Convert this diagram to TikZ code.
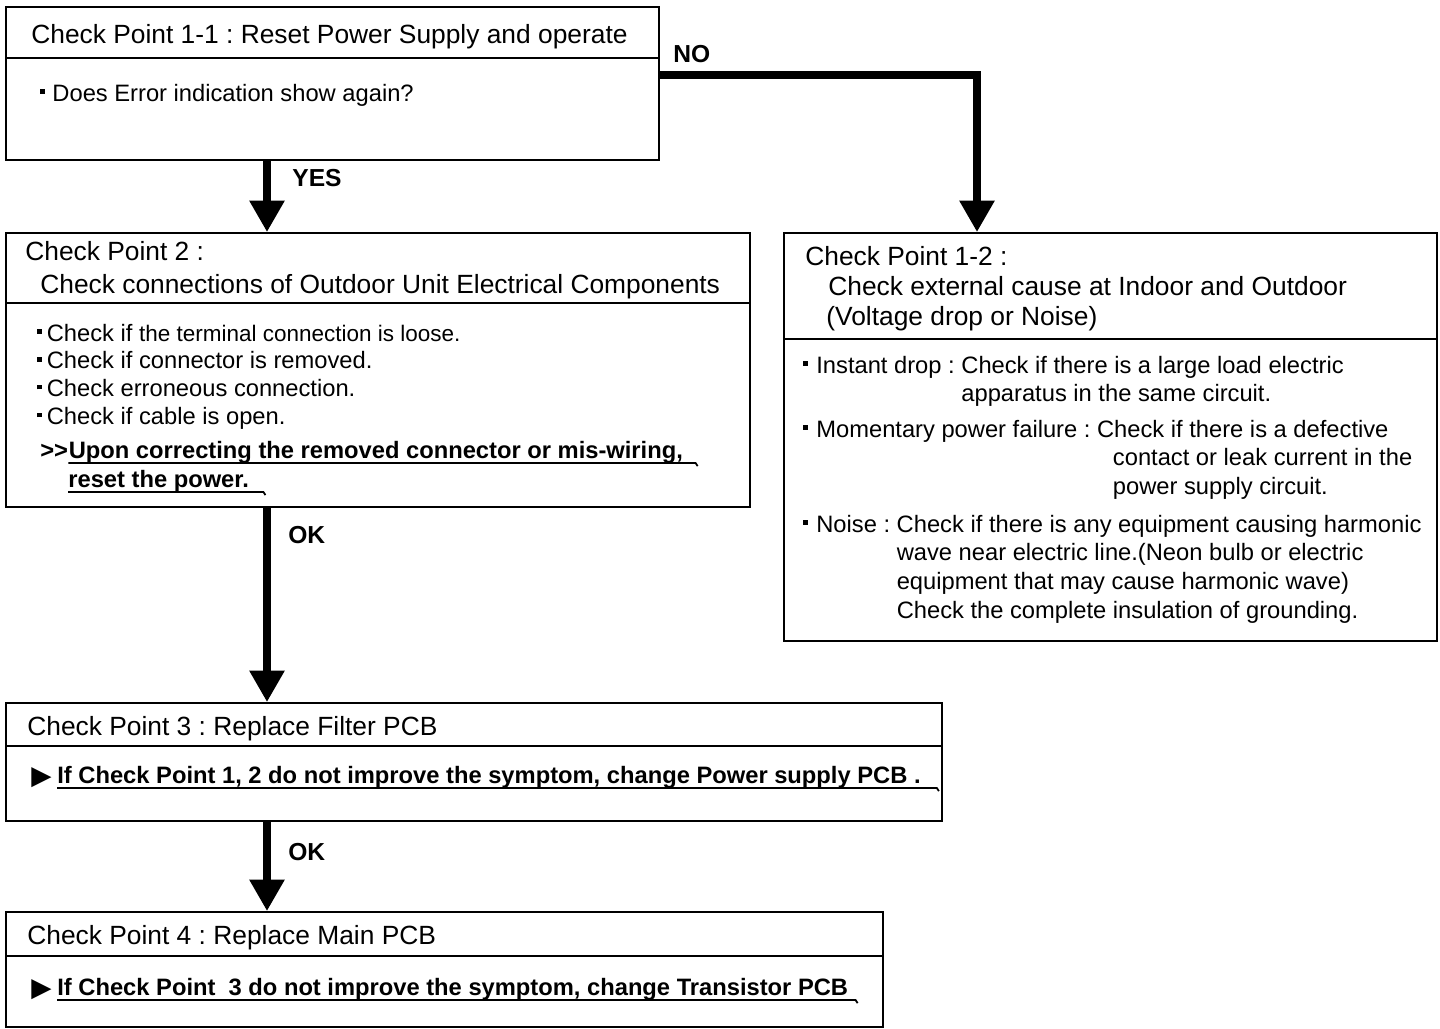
\documentclass[tikz,border=0pt]{standalone}
\usepackage{fontspec}
\setmainfont{Liberation Sans}
\newfontfamily\TriFont{DejaVu Sans}
\usetikzlibrary{arrows.meta,calc,fit,positioning}
\frenchspacing
\newcommand{\XTrunk}{267}
\newcommand{\TitleFont}{\fontsize{15}{17}\selectfont}
\newcommand{\BodyFont}{\fontsize{13.5}{16.5}\selectfont}
\newcommand{\BulletSq}[1][5pt]{\raisebox{0.3em}{\rule{2.4pt}{2.6pt}}\hspace{#1}}
\newcommand{\PlaceBox}[6]{%
  % #1 name, #2/#3 top left, #4/#5 bottom right, #6 y of the header rule
  \node[box,fit={(#2,#3) (#4,#5)}] (#1) {};
  \draw[divider] (#1.west |- 0,#6) -- (#1.east |- 0,#6);
}
\newcommand{\ULine}[2]{%
  % #1 text node, #2 overhang past the last letter
  \draw[uline] ([yshift=-2.8pt]#1.base west) -- ([xshift=#2,yshift=-2.8pt]#1.base east) -- ++(1.2pt,-1.8pt);
}

\begin{document}
\begin{tikzpicture}[
  x=0.02cm, y=-0.02cm,
  box/.style={draw=black,line width=1pt,inner sep=0pt},
  divider/.style={black,line width=1pt},
  flow/.style={line width=4.5pt,-{Triangle[length=18pt,width=19pt]}},
  title/.style={inner sep=0pt,anchor=base west,font=\TitleFont},
  body/.style={inner sep=0pt,anchor=base west,font=\BodyFont},
  bodybold/.style={body,font=\BodyFont\bfseries},
  answer/.style={inner sep=0pt,anchor=base west,font=\fontsize{14}{16}\selectfont\bfseries},
  uline/.style={line width=1pt}
]
\useasboundingbox (0,0) rectangle (1440,1028);

% Boxes
\PlaceBox{cp11}{6}{7}{659}{160}{58}
\PlaceBox{cp2}{6}{233}{750}{507}{303}
\PlaceBox{cp12}{784}{233}{1437}{641}{339}
\PlaceBox{cp3}{6}{703}{942}{821}{746}
\PlaceBox{cp4}{6}{912}{883}{1027}{956}

% Check point 1-1
\node[title] (h11) at (31,43) {Check Point 1-1 : Reset Power Supply and operate};
\node[body] (q11) at (40,101) {\BulletSq[4.5pt]Does Error indication show again?};

% Check point 2
\node[title] (h2a) at (25,260) {Check Point 2 :};
\node[title] (h2b) at (40,293) {Check connections of Outdoor Unit Electrical Components};
\node[body,font=\fontsize{13.5}{15.8}\selectfont] (list2) at (37,341) {%
  \begin{tabular}[t]{@{}l@{}}
  \BulletSq[3pt]Check if {\fontsize{12.8}{15.8}\selectfont the terminal connection is loose.}\\
  \BulletSq[3pt]Check if connector is removed.\\
  \BulletSq[3pt]Check erroneous connection.\\
  \BulletSq[3pt]Check if cable is open.
  \end{tabular}};
\node[bodybold] (gt2) at (40,458) {>\kern0pt>};
\node[bodybold] (fix2a) at (gt2.base east) {Upon correcting the removed connector or mis-wiring,};
\node[bodybold] (fix2b) at (68,487) {reset the power.};
\ULine{fix2a}{7pt}
\ULine{fix2b}{8pt}

% Check point 1-2
\node[title] (h12a) at (805,265) {Check Point 1-2 :};
\node[title] (h12b) at (828,295) {Check external cause at Indoor and Outdoor};
\node[title] (h12c) at (826,325) {(Voltage drop or Noise)};
\node[body] (drop) at (803,373) {%
  \begin{tabular}[t]{@{}l@{\ }l@{}}
  \BulletSq Instant drop : & Check if there is a large load electric\\
  & apparatus in the same circuit.
  \end{tabular}};
\node[body] (fail) at (803,437) {%
  \begin{tabular}[t]{@{}l@{\ }l@{}}
  \BulletSq Momentary power failure : & Check if there is a defective\\
  & \hspace{9pt}contact or leak current in the\\
  & \hspace{9pt}power supply circuit.
  \end{tabular}};
\node[body] (noise) at (803,532) {%
  \begin{tabular}[t]{@{}l@{\ }l@{}}
  \BulletSq Noise : & Check if there is any equipment causing harmonic\\
  & wave near electric line.(Neon bulb or electric\\
  & equipment that may cause harmonic wave)\\
  & Check the complete insulation of grounding.
  \end{tabular}};

% Check point 3
\node[title] (h3) at (27,735) {Check Point 3 : Replace Filter PCB};
\node[body,font=\fontsize{15}{17}\selectfont] (tri3) at (31,784) {\TriFont ▶};
\node[bodybold] (fix3) at (57,783) {If Check Point 1, 2 do not improve the symptom, change Power supply PCB .};
\ULine{fix3}{9pt}

% Check point 4
\node[title] (h4) at (27,944) {Check Point 4 : Replace Main PCB};
\node[body,font=\fontsize{15}{17}\selectfont] (tri4) at (31,996) {\TriFont ▶};
\node[bodybold] (fix4) at (57,995) {If Check Point~\ 3 do not improve the symptom, change Transistor PCB};
\ULine{fix4}{4pt}

% Flow arrows
\coordinate (trunk) at (\XTrunk,0);
\coordinate (noturn) at (977,75);
\draw[flow] (cp11.south -| trunk) -- (cp2.north -| trunk);
\draw[flow] (cp11.east |- noturn) -- (noturn) -- (cp12.north -| noturn);
\draw[flow] (cp2.south -| trunk) -- (cp3.north -| trunk);
\draw[flow] (cp3.south -| trunk) -- (cp4.north -| trunk);

% Answers
\node[answer] (no) at (673,62) {NO};
\node[answer] (yes) at (292,186) {YES};
\node[answer] (ok1) at (288,543) {OK};
\node[answer] (ok2) at (288,860) {OK};

\end{tikzpicture}
\end{document}
